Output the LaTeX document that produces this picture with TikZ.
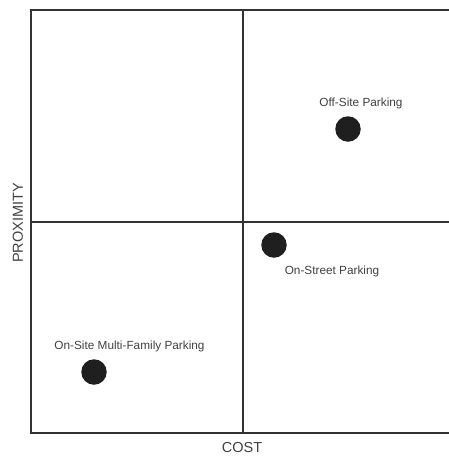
\documentclass[tikz,border=0pt]{standalone}
\usepackage{fontspec}
\setmainfont{Liberation Sans}
\begin{document}
\begin{tikzpicture}[x=1pt,y=-1pt,
  frameline/.style={draw=black!80,line width=1.3pt},
  dot/.style={circle,fill=black!88,inner sep=0pt,minimum size=25.5pt},
  lbl/.style={text=black!75,font=\fontsize{11.8}{13}\selectfont,inner sep=0pt},
  axislbl/.style={text=black!75,font=\fontsize{14.5}{16}\selectfont,inner sep=0pt}]
\useasboundingbox (0,0) rectangle (448,456);
\draw[frameline] (452,10) -- (31,10) -- (31,433) -- (452,433);
\draw[frameline] (243,10) -- (243,433);
\draw[frameline] (31,222) -- (452,222);
\node[dot] (off) at (348,129) {};
\node[lbl] (offl) at (361,103) {Off-Site Parking};
\node[dot] (onst) at (274,245) {};
\node[lbl] (onstl) at (332,271) {On-Street Parking};
\node[dot] (onsite) at (94,372) {};
\node[lbl] (onsitel) at (129.5,346) {On-Site Multi-Family Parking};
\node[axislbl] (cost) at (242,448) {COST};
\node[axislbl,rotate=90] (prox) at (18,223) {PROXIMITY};
\end{tikzpicture}
\end{document}
